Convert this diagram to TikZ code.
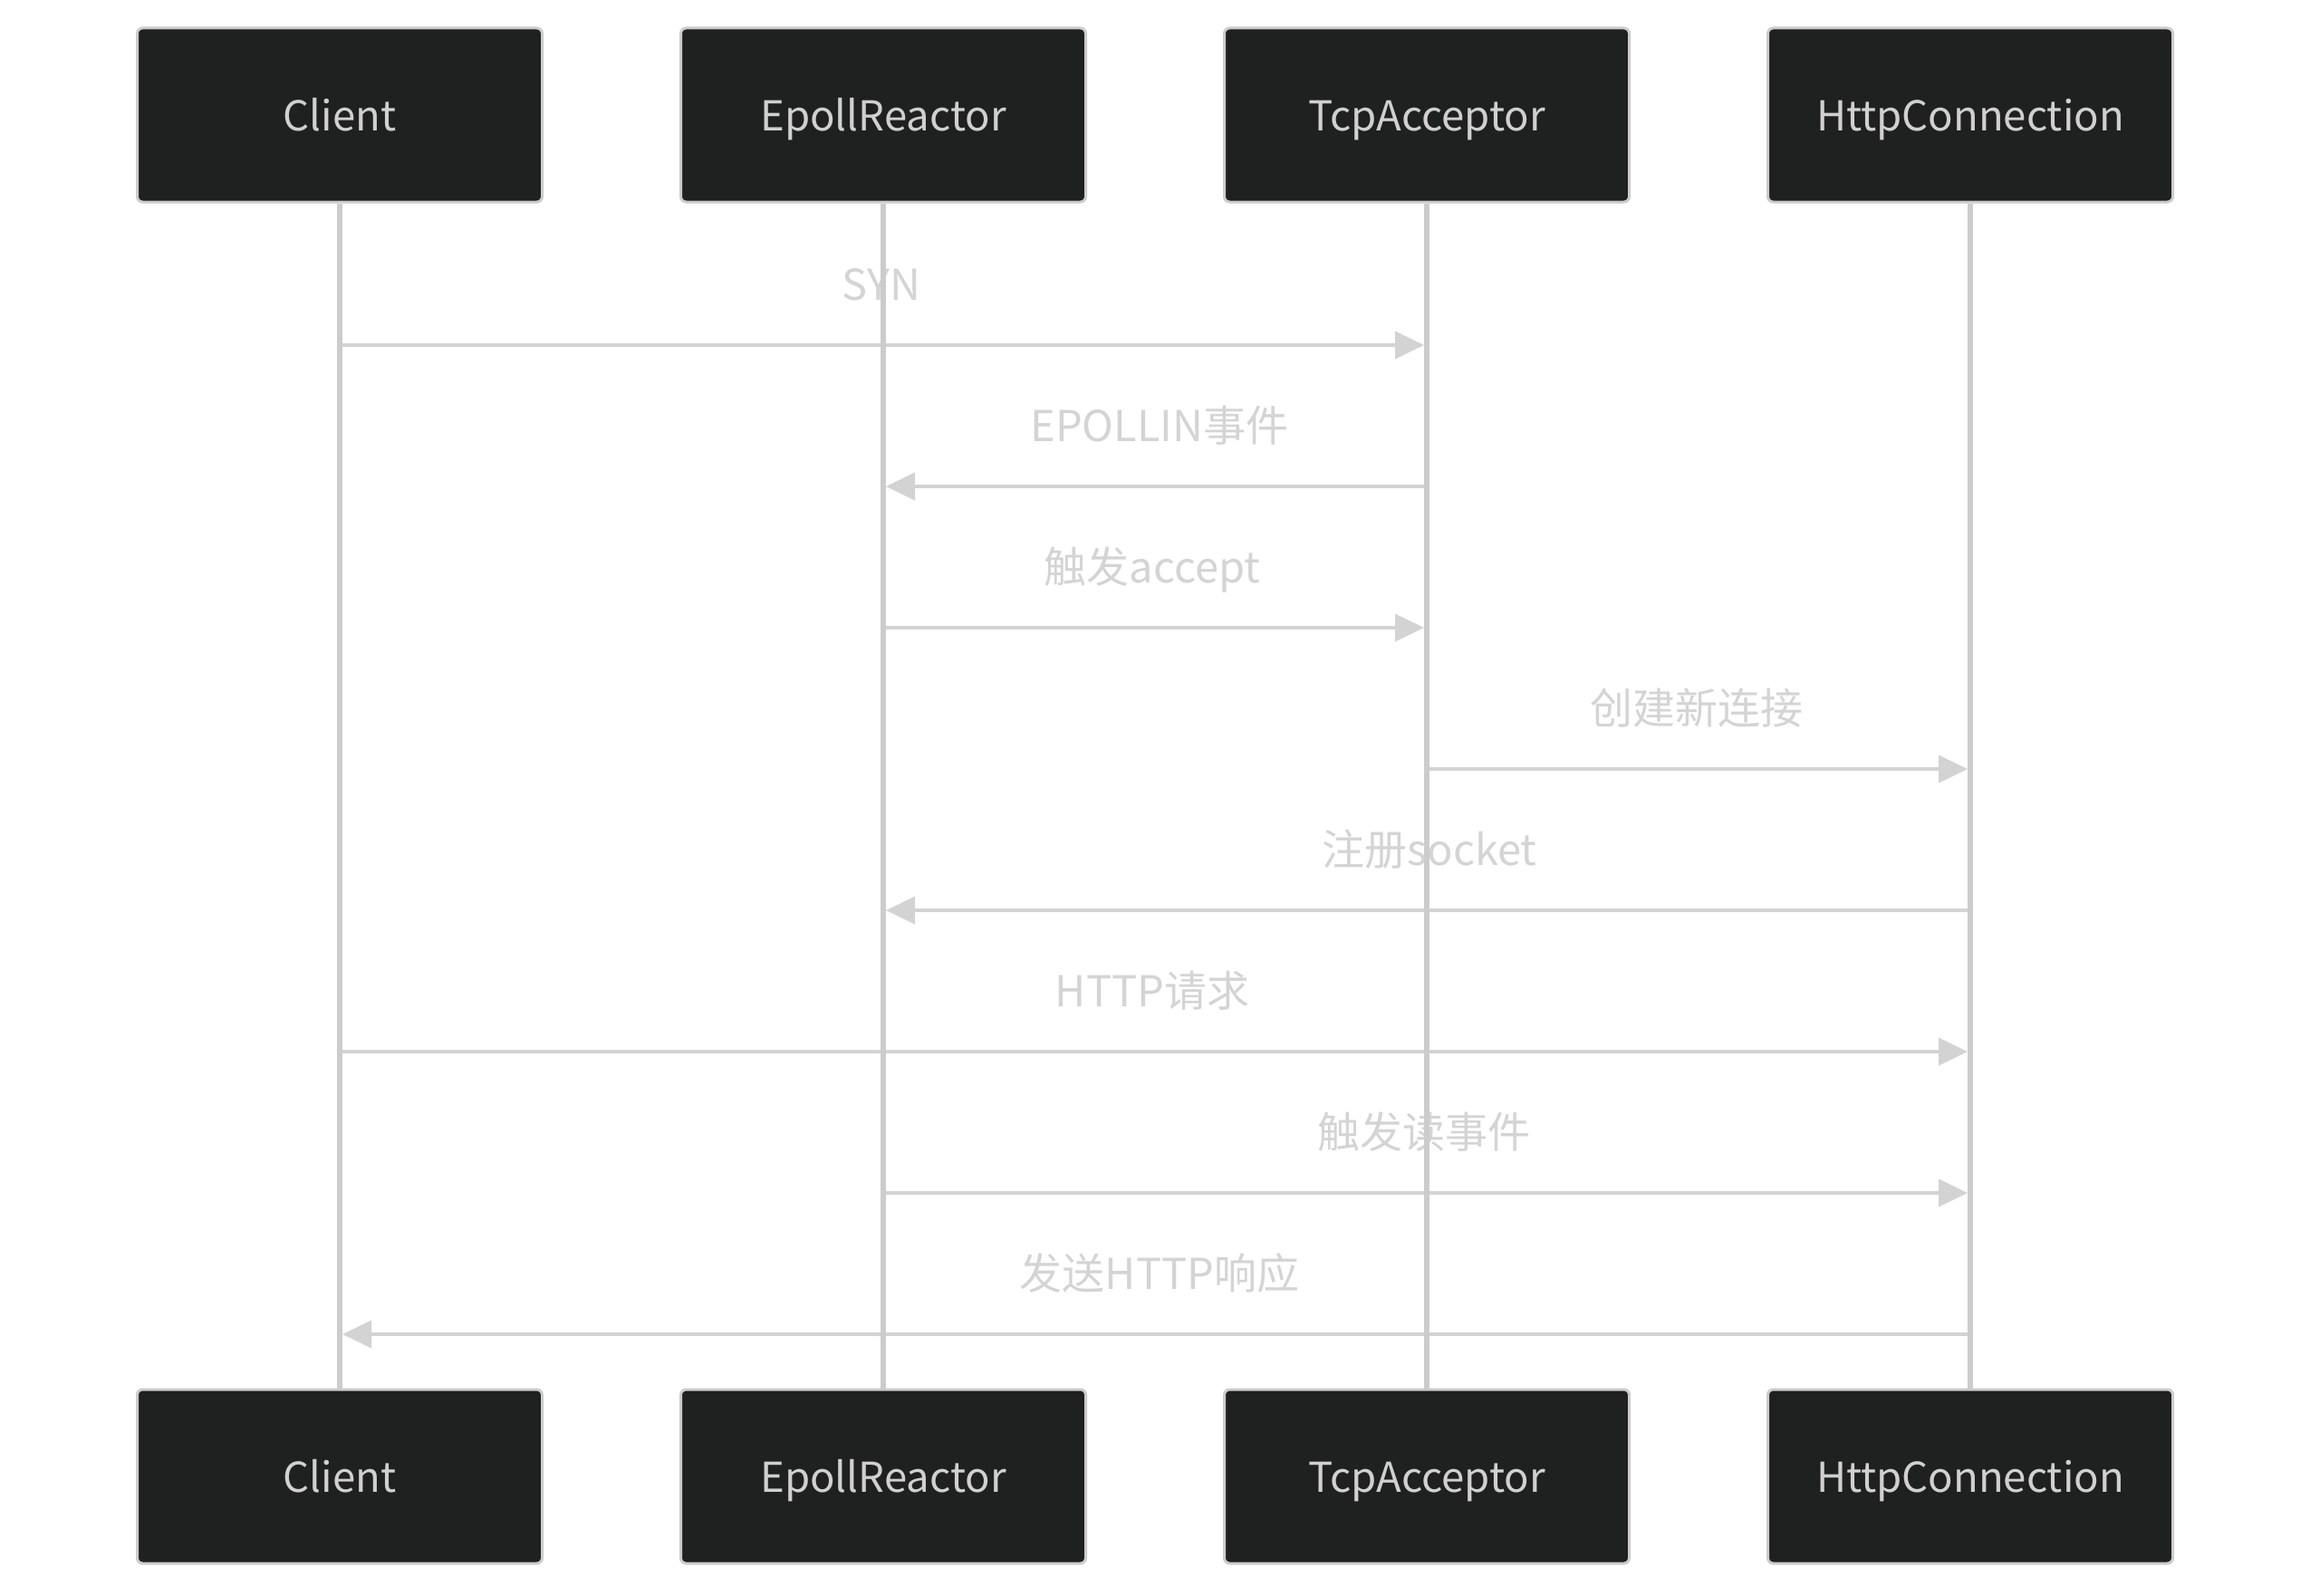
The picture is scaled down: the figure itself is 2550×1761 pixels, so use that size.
\documentclass[tikz,border=0pt]{standalone}
\usepackage{fontspec}
\setmainfont{Noto Sans CJK SC}
\usetikzlibrary{arrows.meta}
\definecolor{boxfill}{HTML}{1F2020}
\definecolor{boxline}{HTML}{CCCCCC}
\definecolor{boxtext}{HTML}{D0D0D0}
\definecolor{lifec}{HTML}{CCCCCC}
\definecolor{msgc}{HTML}{D3D3D3}
\definecolor{labc}{HTML}{D4D4D4}
\tikzset{
  actor/.style={draw=boxline, line width=3pt, fill=boxfill, rounded corners=6pt,
    minimum width=447pt, minimum height=192pt, inner sep=0pt,
    text=boxtext, font=\fontsize{45.5}{50}\selectfont, text height=34pt, text depth=0pt},
  life/.style={draw=lifec, line width=6pt},
  msg/.style={draw=msgc, line width=4pt, -{Triangle[length=32pt,width=30pt]}, shorten >=3pt},
  lab/.style={text=labc, font=\fontsize{47}{50}\selectfont, anchor=base, inner sep=0pt}
}
\begin{document}
\begin{tikzpicture}[x=1pt,y=-1pt]
\useasboundingbox[fill=white] (0,0) rectangle (2550,1761);
% actors
\node[actor] (ct) at (375,127) {Client};
\node[actor] (et) at (975,127) {EpollReactor};
\node[actor] (tt) at (1575,127) {TcpAcceptor};
\node[actor] (ht) at (2175,127) {HttpConnection};
\node[actor] (cb) at (375,1630) {Client};
\node[actor] (eb) at (975,1630) {EpollReactor};
\node[actor] (tb) at (1575,1630) {TcpAcceptor};
\node[actor] (hb) at (2175,1630) {HttpConnection};
% message points
\foreach \n/\yy in {1/381,2/537,3/693,4/849,5/1005,6/1161,7/1317,8/1473}{
  \coordinate (c\n) at (375,\yy);
  \coordinate (e\n) at (975,\yy);
  \coordinate (t\n) at (1575,\yy);
  \coordinate (h\n) at (2175,\yy);
}
% labels
\node[lab] (l1) at (973,331) {SYN};
\node[lab] (l2) at (1280,487) {EPOLLIN事件};
\node[lab] (l3) at (1272,643) {触发accept};
\node[lab] (l4) at (1873,799) {创建新连接};
\node[lab] (l5) at (1578,955) {注册socket};
\node[lab] (l6) at (1272,1111) {HTTP请求};
\node[lab] (l7) at (1572,1267) {触发读事件};
\node[lab] (l8) at (1280,1423) {发送HTTP响应};
% messages
\draw[msg] (c1) -- (t1);
\draw[msg] (t2) -- (e2);
\draw[msg] (e3) -- (t3);
\draw[msg] (t4) -- (h4);
\draw[msg] (h5) -- (e5);
\draw[msg] (c6) -- (h6);
\draw[msg] (e7) -- (h7);
\draw[msg] (h8) -- (c8);
% lifelines
\draw[life] (ct.south) -- (cb.north);
\draw[life] (et.south) -- (eb.north);
\draw[life] (tt.south) -- (tb.north);
\draw[life] (ht.south) -- (hb.north);
\end{tikzpicture}
\end{document}
